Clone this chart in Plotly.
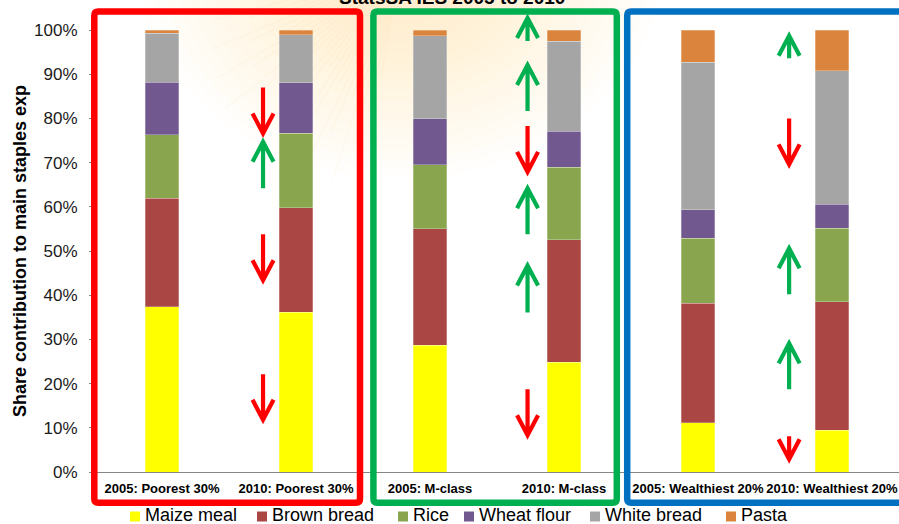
import math
import plotly.graph_objects as go

# ---- data: share (%) of spending on main staples, StatsSA IES 2005 vs 2010 ----
categories = ["2005: Poorest 30%", "2010: Poorest 30%", "2005: M-class",
              "2010: M-class", "2005: Wealthiest 20%", "2010: Wealthiest 20%"]
maize_meal = [37.4, 36.2, 28.7, 24.8, 11.2, 9.4]
brown_bread = [24.5, 23.6, 26.3, 27.8, 27.0, 29.1]
rice = [14.4, 16.8, 14.5, 16.4, 14.7, 16.6]
wheat_flour = [11.9, 11.5, 10.4, 8.1, 6.4, 5.5]
white_bread = [11.1, 10.8, 18.8, 20.3, 33.4, 30.2]
pasta = [0.7, 1.1, 1.3, 2.6, 7.3, 9.2]

series_names = ["Maize meal", "Brown bread", "Rice", "Wheat flour", "White bread", "Pasta"]
series_values = [maize_meal, brown_bread, rice, wheat_flour, white_bread, pasta]
series_colors = ["#FFFF00", "#AA4643", "#89A54E", "#71588F", "#A5A5A5", "#DB843D"]

y_tick_values = [0, 10, 20, 30, 40, 50, 60, 70, 80, 90, 100]
y_tick_labels = ["0%", "10%", "20%", "30%", "40%", "50%", "60%", "70%", "80%", "90%", "100%"]

# change markers between the two survey years: (category position, from %, to %)
change_arrows = [
    (0.754, 87.0, 76.6), (0.754, 64.2, 74.7), (0.754, 53.8, 43.4), (0.754, 22.1, 11.8),
    (2.728, 97.5, 102.7), (2.728, 81.7, 92.1), (2.728, 78.3, 67.9),
    (2.728, 53.8, 64.2), (2.728, 36.1, 46.7), (2.728, 18.7, 8.3),
    (4.680, 93.6, 98.7), (4.680, 80.0, 69.6), (4.680, 40.2, 50.6),
    (4.680, 18.7, 29.1), (4.680, 8.1, 2.9),
]

W, H = 899, 524
L, R, T, B = 95, 0, 30, 52
PW, PH = W - L - R, H - T - B
FONT = "Arial, Liberation Sans, sans-serif"


def px(x, y):
    """pixel position on the page -> paper coordinates"""
    return (x - L) / PW, (H - B - y) / PH


fig = go.Figure()
for name, vals, col in zip(series_names, series_values, series_colors):
    fig.add_trace(go.Bar(
        x=categories, y=vals, name=name, width=0.25,
        marker=dict(color=col, line=dict(color="rgba(255,255,255,0.45)", width=0.6)),
        showlegend=False,
    ))

shapes = []
annotations = []

# faint sunburst glow in the slide background
gx, gy = 400, -30
n_rings = 18
for i in range(n_rings):
    rad = 260 - i * 12
    a0, b0 = px(gx - rad, gy - rad * 0.8)
    a1, b1 = px(gx + rad, gy + rad * 0.8)
    shapes.append(dict(type="circle", xref="paper", yref="paper",
                       x0=a0, x1=a1, y0=b1, y1=b0, layer="below",
                       fillcolor="rgba(247,220,160,0.028)", line=dict(width=0)))
for k in range(30):
    ang = math.radians(100 + k * 2.6)
    ln = 110 + (k * 37) % 120
    x0p, y0p = px(gx + 40 * math.cos(ang), gy + 40 * math.sin(ang))
    x1p, y1p = px(gx + ln * math.cos(ang), gy + ln * math.sin(ang))
    shapes.append(dict(type="line", xref="paper", yref="paper", layer="below",
                       x0=x0p, y0=y0p, x1=x1p, y1=y1p,
                       line=dict(color="rgba(236,180,95,0.07)", width=1.2)))


def rounded_box(x0, y0, x1, y1, r, color, width):
    a0, b0 = px(x0, y0)
    a1, b1 = px(x1, y1)
    rx, ry = r / PW, r / PH
    path = (f"M{a0 + rx},{b0} L{a1 - rx},{b0} Q{a1},{b0} {a1},{b0 - ry} "
            f"L{a1},{b1 + ry} Q{a1},{b1} {a1 - rx},{b1} L{a0 + rx},{b1} "
            f"Q{a0},{b1} {a0},{b1 + ry} L{a0},{b0 - ry} Q{a0},{b0} {a0 + rx},{b0} Z")
    shapes.append(dict(type="path", xref="paper", yref="paper", path=path,
                       line=dict(color=color, width=width), layer="above"))


# group frames
rounded_box(94.3, 11.6, 360.0, 502.8, 4, "#FF0000", 6.5)
rounded_box(373.4, 11.6, 616.8, 502.8, 4, "#00B050", 6.5)
rounded_box(627.2, 11.6, 912.0, 502.8, 4, "#0070C0", 6.5)

# arrows showing the direction of change
hw, hh = 10.5 / PW, 20.0 / PH
for cx, tail, tip in change_arrows:
    x = (cx + 0.5) / len(categories)
    y0, y1 = tail / 100.0, tip / 100.0
    up = tip > tail
    color = "#00B050" if up else "#FF0000"
    yh = y1 - hh if up else y1 + hh
    path = (f"M{x},{y0} L{x},{y1} "
            f"M{x - hw},{yh} L{x},{y1} L{x + hw},{yh}")
    shapes.append(dict(type="path", xref="paper", yref="paper", path=path,
                       line=dict(color=color, width=4.2), layer="above"))

# legend row
legend_square_x = [130, 257, 398, 464, 590, 726]
for name, col, sx in zip(series_names, series_colors, legend_square_x):
    a0, b0 = px(sx, 511.5)
    a1, b1 = px(sx + 10, 521.5)
    shapes.append(dict(type="rect", xref="paper", yref="paper",
                       x0=a0, x1=a1, y0=b1, y1=b0,
                       fillcolor=col, line=dict(width=0)))
    tx, ty = px(sx + 13, 515)
    annotations.append(dict(text=name, xref="paper", yref="paper", x=tx, y=ty,
                            xanchor="left", yanchor="middle", showarrow=False,
                            font=dict(family=FONT, size=18, color="#000000")))

# title (runs off the top edge)
tx, ty = px(452, 10)
annotations.append(dict(text="<b>StatsSA IES 2005 to 2010</b>", xref="paper", yref="paper",
                        x=tx, y=ty, xanchor="center", yanchor="bottom", showarrow=False,
                        font=dict(family=FONT, size=19, color="#000000")))

# y axis title
tx, ty = px(20, 251)
annotations.append(dict(text="<b>Share contribution to main staples exp</b>",
                        xref="paper", yref="paper", x=tx, y=ty, textangle=-90,
                        xanchor="center", yanchor="middle", showarrow=False,
                        font=dict(family=FONT, size=18, color="#000000")))

fig.update_layout(
    width=W, height=H,
    margin=dict(l=L, r=R, t=T, b=B, pad=0),
    barmode="stack",
    bargap=0.75,
    paper_bgcolor="#FFFFFF",
    plot_bgcolor="rgba(0,0,0,0)",
    shapes=shapes,
    annotations=annotations,
    showlegend=False,
    xaxis=dict(
        type="category", range=[-0.5, 5.5],
        showgrid=False, zeroline=False,
        showline=True, linecolor="#868686", linewidth=1,
        ticks="", tickfont=dict(family=FONT, size=13, color="#000000"),
        tickprefix="<b>", ticksuffix="</b>",
        ticklabelstandoff=4,
    ),
    yaxis=dict(
        range=[0, 100], tickmode="array",
        tickvals=y_tick_values, ticktext=y_tick_labels,
        showgrid=False, zeroline=False,
        showline=False, ticks="outside", ticklen=5, tickcolor="#868686",
        tickfont=dict(family=FONT, size=17, color="#1A1A1A"),
        ticklabelstandoff=8,
    ),
)

fig.write_html("out.html")
